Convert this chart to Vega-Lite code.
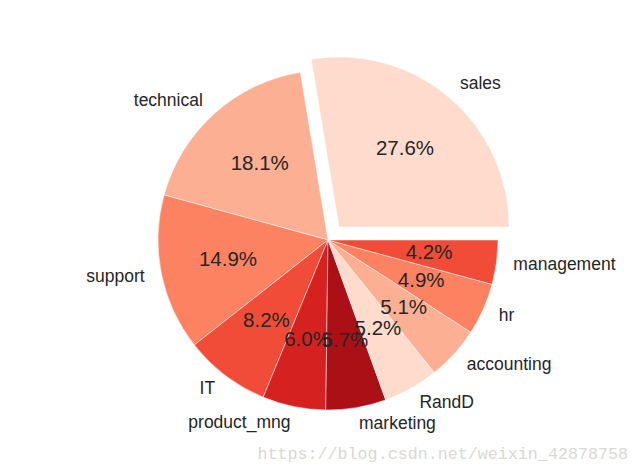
{
  "$schema": "https://vega.github.io/schema/vega-lite/v6.json",
  "width": 624,
  "height": 472,
  "autosize": {"type": "none"},
  "padding": {"left": 16, "top": 4, "right": 0, "bottom": 0},
  "background": "white",
  "config": {"view": {"stroke": null}},
  "title": {
    "text": "https://blog.csdn.net/weixin_42878758",
    "orient": "bottom",
    "anchor": "end",
    "frame": "group",
    "offset": -30,
    "dx": -12,
    "font": "Liberation Mono",
    "fontSize": 16.7,
    "fontWeight": "normal",
    "color": "#d9d9d2"
  },
  "data": {
    "values": [
      {"dept": "sales", "count": 4140},
      {"dept": "technical", "count": 2720},
      {"dept": "support", "count": 2229},
      {"dept": "IT", "count": 1227},
      {"dept": "product_mng", "count": 902},
      {"dept": "marketing", "count": 858},
      {"dept": "RandD", "count": 787},
      {"dept": "accounting", "count": 767},
      {"dept": "hr", "count": 739},
      {"dept": "management", "count": 630}
    ]
  },
  "transform": [
    {"joinaggregate": [{"op": "sum", "field": "count", "as": "total"}]},
    {"calculate": "datum.count / datum.total", "as": "share"}
  ],
  "encoding": {
    "theta": {
      "field": "count",
      "type": "quantitative",
      "stack": true,
      "scale": {"range": [1.5707963, -4.712389]}
    },
    "order": {"field": "count", "type": "quantitative", "sort": "descending"}
  },
  "layer": [
    {
      "mark": {"type": "arc", "outerRadius": 170, "stroke": "white", "strokeWidth": 0.5},
      "encoding": {
        "color": {
          "field": "dept",
          "type": "nominal",
          "scale": {
            "domain": ["sales", "technical", "support", "IT", "product_mng", "marketing", "RandD", "accounting", "hr", "management"],
            "range": ["#fedbcc", "#fcaf93", "#fc8262", "#f14c37", "#d52221", "#ab1016", "#fedbcc", "#fcaf93", "#fc8262", "#f14c37"]
          },
          "legend": null
        },
        "opacity": {"condition": {"test": "datum.dept === 'sales'", "value": 0}, "value": 1}
      }
    },
    {
      "mark": {"type": "arc", "outerRadius": 170, "stroke": "white", "strokeWidth": 0.5, "xOffset": 11, "yOffset": -13},
      "encoding": {
        "color": {"field": "dept", "type": "nominal", "legend": null},
        "opacity": {"condition": {"test": "datum.dept === 'sales'", "value": 1}, "value": 0}
      }
    },
    {
      "mark": {"type": "text", "radius": 102, "fontSize": 20.5, "font": "Liberation Sans", "color": "#262626", "align": "center", "baseline": "middle"},
      "encoding": {
        "detail": {"field": "dept", "type": "nominal"},
        "text": {"field": "share", "type": "quantitative", "format": ".1%"},
        "opacity": {"condition": {"test": "datum.dept === 'sales'", "value": 0}, "value": 1}
      }
    },
    {
      "mark": {"type": "text", "radius": 102, "fontSize": 20.5, "font": "Liberation Sans", "color": "#262626", "align": "center", "baseline": "middle", "xOffset": 11, "yOffset": -13},
      "encoding": {
        "detail": {"field": "dept", "type": "nominal"},
        "text": {"field": "share", "type": "quantitative", "format": ".1%"},
        "opacity": {"condition": {"test": "datum.dept === 'sales'", "value": 1}, "value": 0}
      }
    },
    {
      "mark": {"type": "text", "radius": 187, "fontSize": 17.5, "font": "Liberation Sans", "color": "#262626", "align": "right", "baseline": "middle"},
      "encoding": {
        "detail": {"field": "dept", "type": "nominal"},
        "text": {"field": "dept", "type": "nominal"},
        "opacity": {"condition": {"test": "indexof(['technical','support','IT','product_mng'], datum.dept) >= 0", "value": 1}, "value": 0}
      }
    },
    {
      "mark": {"type": "text", "radius": 187, "fontSize": 17.5, "font": "Liberation Sans", "color": "#262626", "align": "left", "baseline": "middle"},
      "encoding": {
        "detail": {"field": "dept", "type": "nominal"},
        "text": {"field": "dept", "type": "nominal"},
        "opacity": {"condition": {"test": "indexof(['marketing','RandD','accounting','hr','management'], datum.dept) >= 0", "value": 1}, "value": 0}
      }
    },
    {
      "mark": {"type": "text", "radius": 187, "fontSize": 17.5, "font": "Liberation Sans", "color": "#262626", "align": "left", "baseline": "middle", "xOffset": 11, "yOffset": -13},
      "encoding": {
        "detail": {"field": "dept", "type": "nominal"},
        "text": {"field": "dept", "type": "nominal"},
        "opacity": {"condition": {"test": "datum.dept === 'sales'", "value": 1}, "value": 0}
      }
    }
  ]
}
